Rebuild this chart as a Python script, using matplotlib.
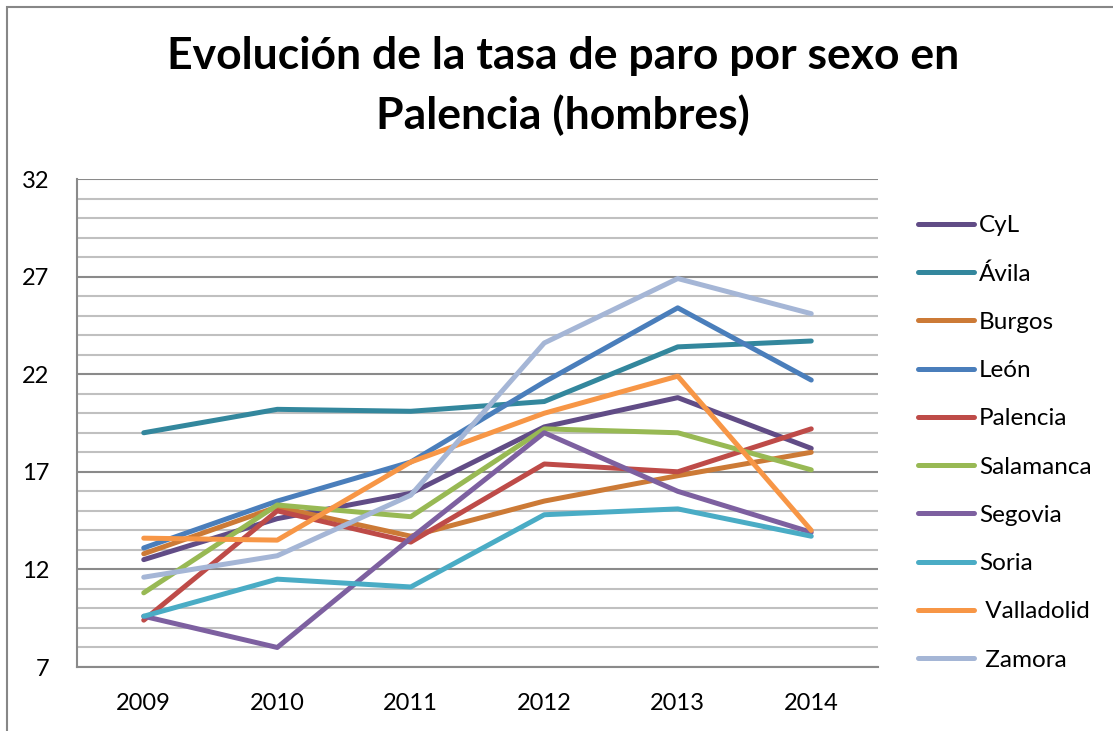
import numpy as np
import matplotlib
matplotlib.use("Agg")
import matplotlib.pyplot as plt
from matplotlib.patches import Rectangle
from matplotlib.ticker import MultipleLocator, FixedLocator

plt.rcParams['font.family'] = ['Lato', 'DejaVu Sans']

years = ['2009', '2010', '2011', '2012', '2013', '2014']
y_ticks = [7, 12, 17, 22, 27, 32]

cyl = [12.5, 14.6, 15.9, 19.3, 20.8, 18.2]
avila = [19.0, 20.2, 20.1, 20.6, 23.4, 23.7]
burgos = [12.8, 15.2, 13.7, 15.5, 16.8, 18.0]
leon = [13.1, 15.5, 17.5, 21.6, 25.4, 21.7]
palencia = [9.4, 15.0, 13.4, 17.4, 17.0, 19.2]
salamanca = [10.8, 15.3, 14.7, 19.2, 19.0, 17.1]
segovia = [9.6, 8.0, 13.6, 19.0, 16.0, 13.9]
soria = [9.6, 11.5, 11.1, 14.8, 15.1, 13.7]
valladolid = [13.6, 13.5, 17.5, 20.0, 21.9, 14.0]
zamora = [11.6, 12.7, 15.8, 23.6, 26.9, 25.1]

series = [
    ('CyL', cyl, '#614c86'),
    ('Ávila', avila, '#33879d'),
    ('Burgos', burgos, '#cc7a36'),
    ('León', leon, '#4a7ebb'),
    ('Palencia', palencia, '#be4b48'),
    ('Salamanca', salamanca, '#98b954'),
    ('Segovia', segovia, '#7d60a0'),
    ('Soria', soria, '#4aacc5'),
    (' Valladolid', valladolid, '#f79646'),
    (' Zamora', zamora, '#a5b6d6'),
]

W, H = 1113, 731
fig = plt.figure(figsize=(W / 100, H / 100), dpi=100)

# marco exterior del gráfico
fig.patches.append(Rectangle((7 / W, -0.1), 1.2, 1 - 7 / H + 0.1, transform=fig.transFigure,
                             fill=False, edgecolor='#878787', linewidth=1.5))

# área de trazado
left, right, top, bottom = 77, 878, 179, 667
ax = fig.add_axes([left / W, 1 - bottom / H, (right - left) / W, (bottom - top) / H])

x = np.arange(len(years))
for name, vals, color in series:
    ax.plot(x, vals, color=color, linewidth=3.6, label=name, solid_capstyle='round',
            solid_joinstyle='round', zorder=3)

ax.set_xlim(-0.5, len(years) - 0.5)
ax.set_ylim(y_ticks[0], y_ticks[-1])
ax.set_xticks(x)
ax.set_xticklabels(years)
ax.yaxis.set_major_locator(FixedLocator(y_ticks))
ax.yaxis.set_minor_locator(MultipleLocator(1))
ax.grid(True, which='minor', axis='y', color='#c0c0c0', linewidth=1.5, zorder=0)
ax.grid(True, which='major', axis='y', color='#8a8a8a', linewidth=1.5, zorder=1)
ax.tick_params(axis='both', which='both', length=0, labelsize=17)
ax.tick_params(axis='y', pad=20)
ax.tick_params(axis='x', pad=19)

for s in ['top', 'right']:
    ax.spines[s].set_visible(False)
for s in ['left', 'bottom']:
    ax.spines[s].set_color('#8a8a8a')
    ax.spines[s].set_linewidth(1.5)

fig.text(563 / W, 1 - 86 / H, 'Evolución de la tasa de paro por sexo en\nPalencia (hombres)',
         ha='center', va='center', fontsize=32, fontweight='bold', linespacing=1.55)

leg = ax.legend(loc='upper left', bbox_to_anchor=(918 / W, 1 - 215 / H), bbox_transform=fig.transFigure,
                frameon=False, fontsize=17.5, handlelength=2.3, handletextpad=0.2,
                labelspacing=1.12, borderpad=0, borderaxespad=0)

fig.savefig('out.png', dpi=100)
